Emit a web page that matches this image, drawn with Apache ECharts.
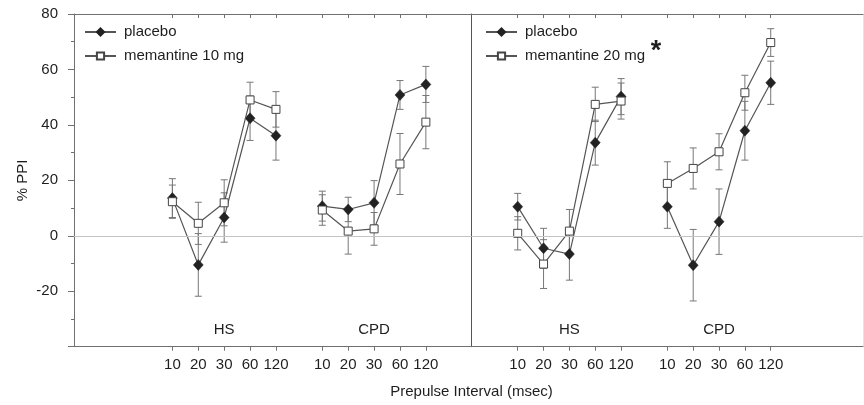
<!DOCTYPE html>
<html><head><meta charset="utf-8">
<script src="https://cdn.jsdelivr.net/npm/echarts@6/dist/echarts.min.js"></script>
<style>html,body{margin:0;padding:0;background:#fff}#c{width:864px;height:405px}</style>
</head><body><div id="c"></div>
<script>
// ---- data ----
const intervals = ['10', '20', '30', '60', '120'];
const groups = ['HS', 'CPD'];
const yTickLabels = [-20, 0, 20, 40, 60, 80];
const xTitle = 'Prepulse Interval (msec)';
const yTitle = '% PPI';

// Left panel: placebo vs memantine 10 mg
const placeboA_HS = [13.6, -10.5, 6.6, 42.4, 36.1];
const placeboA_HS_err = [7.0, 11.3, 8.9, 8.0, 8.8];
const placeboA_CPD = [10.7, 9.5, 11.9, 50.8, 54.6];
const placeboA_CPD_err = [5.4, 4.4, 8.0, 5.2, 6.5];
const mem10_HS = [12.3, 4.5, 11.9, 49.0, 45.6];
const mem10_HS_err = [6.0, 7.6, 8.3, 6.4, 6.4];
const mem10_CPD = [9.3, 1.7, 2.5, 25.9, 41.0];
const mem10_CPD_err = [5.5, 8.3, 5.9, 11.0, 9.6];

// Right panel: placebo vs memantine 20 mg
const placeboB_HS = [10.5, -4.5, -6.6, 33.6, 50.2];
const placeboB_HS_err = [4.8, 7.2, 9.4, 8.1, 6.5];
const placeboB_CPD = [10.5, -10.6, 5.1, 37.9, 55.2];
const placeboB_CPD_err = [7.8, 12.9, 11.8, 10.6, 7.8];
const mem20_HS = [0.9, -10.2, 1.7, 47.4, 48.6];
const mem20_HS_err = [6.0, 8.8, 7.8, 6.2, 6.5];
const mem20_CPD = [18.9, 24.3, 30.3, 51.6, 69.7];
const mem20_CPD_err = [7.8, 7.4, 6.5, 6.3, 5.0];

const seriesNames = ['placebo', 'memantine 10 mg', 'memantine 20 mg'];

// ---- layout ----
const FONT = '"Liberation Sans", Arial, sans-serif';
const AX = '#707070';
const TXT = '#1e1e1e';
const LINE = '#555';
const ERR = '#777';
const GROUP_STEP = 5.79;
const xRanges = [[-3.8, 11.56], [-1.78, 13.36]];
const grids = [
  { left: 74, top: 14, width: 397.7, height: 332.7 },
  { left: 471.7, top: 14, width: 391.3, height: 332.7 }
];

const pos = [];
groups.forEach((g, gi) => intervals.forEach((iv, i) => pos.push(gi * GROUP_STEP + i)));
const groupCenters = groups.map((g, gi) => gi * GROUP_STEP + 2);

function labelFor(v) {
  const idx = pos.findIndex(p => Math.abs(p - v) < 1e-6);
  return idx < 0 ? '' : intervals[idx % intervals.length];
}
function groupFor(v) {
  const idx = groupCenters.findIndex(p => Math.abs(p - v) < 1e-6);
  return idx < 0 ? '' : groups[idx];
}

const xAxis = [];
const yAxis = [];
grids.forEach((g, gi) => {
  xAxis.push({
    type: 'value', gridIndex: gi, min: xRanges[gi][0], max: xRanges[gi][1], position: 'bottom',
    axisLine: { show: true, onZero: false, lineStyle: { color: AX, width: 1 } },
    axisTick: { show: true, customValues: pos, length: 4, lineStyle: { color: AX } },
    axisLabel: { show: true, customValues: pos, formatter: labelFor, margin: 11, fontSize: 15, color: TXT, fontFamily: FONT },
    splitLine: { show: false }
  });
  xAxis.push({
    type: 'value', gridIndex: gi, min: xRanges[gi][0], max: xRanges[gi][1], position: 'top',
    axisLine: { show: true, onZero: false, lineStyle: { color: AX, width: 1 } },
    axisTick: { show: true, inside: true, customValues: pos, length: 4, lineStyle: { color: AX } },
    axisLabel: { show: false },
    splitLine: { show: false }
  });
  xAxis.push({
    type: 'value', gridIndex: gi, min: xRanges[gi][0], max: xRanges[gi][1], position: 'bottom',
    axisLine: { show: false, onZero: false },
    axisTick: { show: false },
    axisLabel: { show: true, inside: true, customValues: groupCenters, formatter: groupFor, margin: 9, fontSize: 15, color: TXT, fontFamily: FONT },
    splitLine: { show: false }
  });
});

yAxis.push({
  type: 'value', gridIndex: 0, min: -40, max: 80, interval: 20, position: 'left',
  name: yTitle, nameLocation: 'middle', nameGap: 44,
  nameTextStyle: { fontSize: 15, color: TXT, fontFamily: FONT },
  axisLine: { show: true, onZero: false, lineStyle: { color: AX } },
  axisTick: { show: true, length: 6, lineStyle: { color: AX } },
  minorTick: { show: true, splitNumber: 2, length: 3, lineStyle: { color: AX } },
  axisLabel: { margin: 16, fontSize: 15, color: TXT, fontFamily: FONT,
    formatter: v => yTickLabels.includes(v) ? String(v) : '' },
  splitLine: { show: false }
});
yAxis.push({
  type: 'value', gridIndex: 1, min: -40, max: 80, interval: 20, position: 'left',
  axisLine: { show: true, onZero: false, lineStyle: { color: '#555' } },
  axisTick: { show: false }, axisLabel: { show: false }, splitLine: { show: false }
});
yAxis.push({
  type: 'value', gridIndex: 1, min: -40, max: 80, interval: 20, position: 'right',
  axisLine: { show: true, onZero: false, lineStyle: { color: '#e4e4e4' } },
  axisTick: { show: false }, axisLabel: { show: false }, splitLine: { show: false }
});

function errRender(params, api) {
  const x = api.value(0), lo = api.value(1), hi = api.value(2);
  const p1 = api.coord([x, hi]), p2 = api.coord([x, lo]);
  const w = 3.5;
  const style = { stroke: ERR, lineWidth: 1, fill: null };
  return { type: 'group', children: [
    { type: 'line', shape: { x1: p1[0], y1: p1[1], x2: p2[0], y2: p2[1] }, style },
    { type: 'line', shape: { x1: p1[0] - w, y1: p1[1], x2: p1[0] + w, y2: p1[1] }, style },
    { type: 'line', shape: { x1: p2[0] - w, y1: p2[1], x2: p2[0] + w, y2: p2[1] }, style }
  ] };
}

const series = [];
const panels = [
  { gi: 0, placebo: [[placeboA_HS, placeboA_HS_err], [placeboA_CPD, placeboA_CPD_err]],
    mem: [[mem10_HS, mem10_HS_err], [mem10_CPD, mem10_CPD_err]], memName: seriesNames[1], yIdx: 0 },
  { gi: 1, placebo: [[placeboB_HS, placeboB_HS_err], [placeboB_CPD, placeboB_CPD_err]],
    mem: [[mem20_HS, mem20_HS_err], [mem20_CPD, mem20_CPD_err]], memName: seriesNames[2], yIdx: 1 }
];

panels.forEach(p => {
  const xIdx = p.gi * 3;
  series.push({
    type: 'line', xAxisIndex: xIdx, yAxisIndex: p.yIdx, data: [], silent: true,
    markLine: { silent: true, symbol: 'none', label: { show: false },
      lineStyle: { color: '#c4c4c4', width: 1, type: 'solid' }, data: [{ yAxis: 0 }] }
  });
  const addTreatment = (sets, name, isPlacebo) => {
    sets.forEach((set, gi) => {
      const vals = set[0], errs = set[1];
      series.push({
        type: 'custom', xAxisIndex: xIdx, yAxisIndex: p.yIdx, z: 1, silent: true,
        renderItem: errRender, encode: { x: 0, y: [1, 2] },
        data: vals.map((v, i) => [gi * GROUP_STEP + i, v - errs[i], v + errs[i]])
      });
    });
    sets.forEach((set, gi) => {
      const vals = set[0];
      series.push({
        type: 'line', name, xAxisIndex: xIdx, yAxisIndex: p.yIdx, z: isPlacebo ? 3 : 4,
        data: vals.map((v, i) => [gi * GROUP_STEP + i, v]),
        symbol: isPlacebo ? 'diamond' : 'rect',
        symbolSize: isPlacebo ? [10, 11] : 8,
        itemStyle: isPlacebo ? { color: '#222', borderColor: '#222', borderWidth: 0.5 }
                             : { color: '#fff', borderColor: '#444', borderWidth: 1 },
        lineStyle: { color: LINE, width: 1.2 },
        emphasis: { disabled: true }, animation: false
      });
    });
  };
  addTreatment(p.placebo, seriesNames[0], true);
  addTreatment(p.mem, p.memName, false);
});

const legendCommon = {
  orient: 'vertical', top: 19, itemWidth: 31, itemHeight: 9, itemGap: 8,
  selectedMode: false,
  textStyle: { fontSize: 15, color: TXT, fontFamily: FONT, lineHeight: 16, padding: [0, 0, 0, 3] }
};

const option = {
  animation: false,
  backgroundColor: '#fff',
  grid: grids.map(g => Object.assign({ containLabel: false }, g)),
  xAxis, yAxis, series,
  legend: [
    Object.assign({}, legendCommon, { left: 79, data: [seriesNames[0], seriesNames[1]] }),
    Object.assign({}, legendCommon, { left: 480, data: [seriesNames[0], seriesNames[2]] })
  ],
  graphic: [
    { type: 'text', x: 471.5, y: 392, style: { text: xTitle, align: 'center', verticalAlign: 'middle',
      fontSize: 15, fill: TXT, fontFamily: FONT } },
    { type: 'text', x: 656, y: 52, style: { text: '*', align: 'center', verticalAlign: 'middle',
      fontSize: 27, fontWeight: 'bold', fill: TXT, fontFamily: FONT } }
  ]
};

const chart = echarts.init(document.getElementById('c'));
chart.setOption(option);
</script>
</body></html>
